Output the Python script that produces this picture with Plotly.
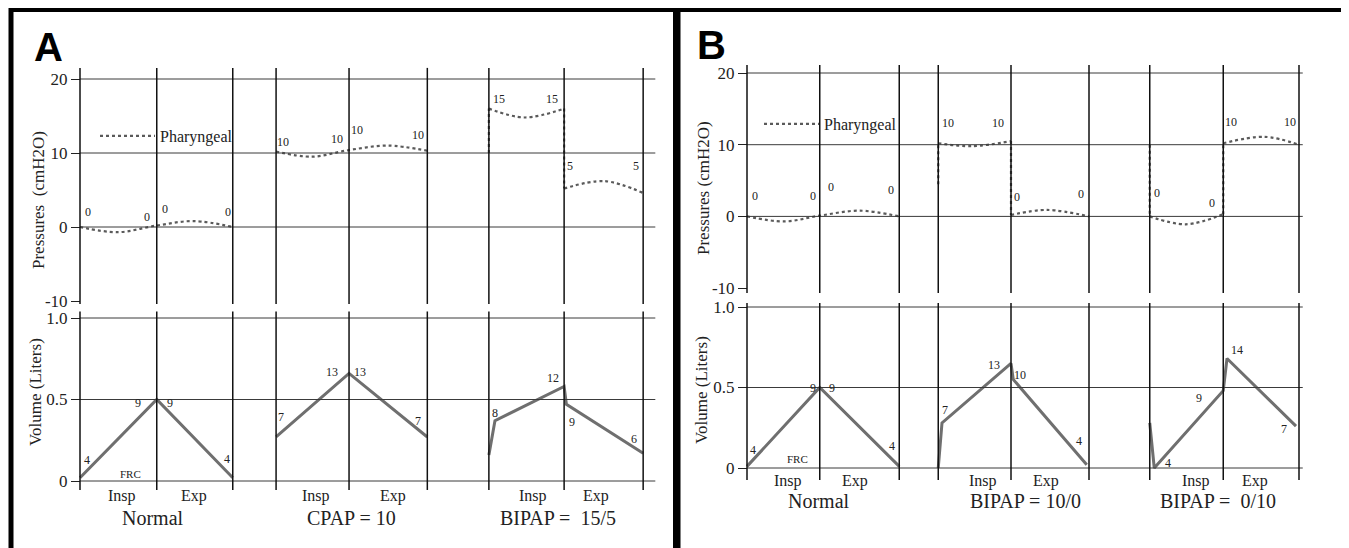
import plotly.graph_objects as go

W, H = 1349, 548
OFF = 8  # page body margin in the browser
FW, FH = W - OFF, H - OFF

# ---------------- DATA (time in phase units, pressure cmH2O, volume L) ----------------
# breath boundaries: start, end of inspiration, end of expiration
a_bounds = [[0, 1.01, 2.01], [2.58, 3.54, 4.57], [5.38, 6.37, 7.41]]
b_bounds = [[0, 0.97, 2.03], [2.55, 3.52, 4.56], [5.37, 6.35, 7.36]]

# Panel A – pharyngeal pressure
a_p_norm_t = [0, 0.5, 1.01, 1.5, 2.01]
a_p_norm = [0, -0.7, 0.2, 0.8, 0]
a_p_cpap_t = [2.58, 3.05, 3.54, 4.05, 4.57]
a_p_cpap = [10.2, 9.5, 10.4, 11.0, 10.3]
a_p_bip_in_t = [5.38, 5.85, 6.37]
a_p_bip_in = [16.0, 14.8, 16.0]
a_p_bip_ex_t = [6.37, 6.9, 7.41]
a_p_bip_ex = [5.2, 6.2, 4.6]
a_p_step_t = [5.38, 6.37]
a_p_step_from = [10.0, 16.0]
a_p_step_to = [16.0, 5.2]

# Panel A – volume
a_v_norm_t = [0, 1.01, 2.01]
a_v_norm = [0.02, 0.5, 0.02]
a_v_cpap_t = [2.58, 3.54, 4.57]
a_v_cpap = [0.27, 0.66, 0.27]
a_v_bip_t = [5.38, 5.46, 6.37, 6.40, 7.41]
a_v_bip = [0.16, 0.37, 0.58, 0.47, 0.17]

# Panel B – pharyngeal pressure
b_p_norm_t = [0, 0.5, 0.97, 1.5, 2.03]
b_p_norm = [0.0, -0.7, 0.1, 0.8, 0.0]
b_p_b1_in_t = [2.55, 3.0, 3.52]
b_p_b1_in = [10.2, 9.8, 10.5]
b_p_b1_ex_t = [3.52, 4.0, 4.56]
b_p_b1_ex = [0.2, 0.9, 0.0]
b_p_b2_in_t = [5.37, 5.85, 6.35]
b_p_b2_in = [0.0, -1.1, 0.3]
b_p_b2_ex_t = [6.35, 6.9, 7.36]
b_p_b2_ex = [10.2, 11.1, 10.0]
b_p_step_t = [2.55, 3.52, 5.37, 6.35]
b_p_step_from = [4.5, 10.5, 10.0, 0.3]
b_p_step_to = [10.2, 0.2, 0.0, 10.2]

# Panel B – volume
b_v_norm_t = [0, 0.97, 2.03]
b_v_norm = [0.01, 0.5, 0.01]
b_v_b1_t = [2.55, 2.60, 3.52, 3.55, 4.53]
b_v_b1 = [0.0, 0.28, 0.65, 0.55, 0.02]
b_v_b2_t = [5.37, 5.43, 6.35, 6.40, 7.32]
b_v_b2 = [0.28, 0.0, 0.48, 0.68, 0.26]

# point labels (t, value, text)
a_p_labels = [(0.1, 2.0, "0"), (0.88, 1.4, "0"), (1.12, 2.4, "0"), (1.95, 2.0, "0"),
              (2.67, 11.5, "10"), (3.38, 11.9, "10"), (3.64, 13.1, "10"), (4.45, 12.4, "10"),
              (5.51, 17.3, "15"), (6.21, 17.3, "15"), (6.45, 8.2, "5"), (7.32, 8.2, "5")]
a_v_labels = [(0.09, 0.13, "4"), (0.76, 0.48, "9"), (1.18, 0.48, "9"), (1.93, 0.135, "4"),
              (2.64, 0.39, "7"), (3.32, 0.67, "13"), (3.68, 0.67, "13"), (4.45, 0.37, "7"),
              (5.46, 0.42, "8"), (6.22, 0.63, "12"), (6.47, 0.36, "9"), (7.29, 0.26, "6")]
b_p_labels = [(0.11, 2.9, "0"), (0.88, 2.9, "0"), (1.12, 4.1, "0"), (1.92, 3.7, "0"),
              (2.68, 13.0, "10"), (3.35, 13.0, "10"), (3.60, 2.7, "0"), (4.45, 3.1, "0"),
              (5.47, 3.3, "0"), (6.20, 1.9, "0"), (6.45, 13.2, "10"), (7.24, 13.2, "10")]
b_v_labels = [(0.08, 0.11, "4"), (0.88, 0.5, "9"), (1.13, 0.5, "9"), (1.93, 0.137, "4"),
              (2.64, 0.36, "7"), (3.29, 0.64, "13"), (3.64, 0.58, "10"), (4.43, 0.17, "4"),
              (5.61, 0.03, "4"), (6.03, 0.435, "9"), (6.53, 0.73, "14"), (7.16, 0.24, "7")]
a_frc = (0.66, 0.043, "FRC")
b_frc = (0.67, 0.056, "FRC")

phase_names = ["Insp", "Exp", "Insp", "Exp", "Insp", "Exp"]
a_phase_t = [0.55, 1.50, 3.10, 4.12, 5.96, 6.79]
b_phase_t = [0.55, 1.44, 3.15, 3.99, 5.99, 6.77]
a_cond_t = [0.96, 3.57, 6.29]
a_cond = ["Normal", "CPAP = 10", "BIPAP =\u00a0 15/5"]
b_cond_t = [0.96, 3.71, 6.28]
b_cond = ["Normal", "BIPAP = 10/0", "BIPAP =\u00a0 0/10"]

p_ticks = [20, 10, 0, -10]
p_grid = [20, 10, 0]
v_ticks = [0, 0.5, 1.0]
v_ticktext = ["0", "0.5", "1.0"]

# ---------------- helpers ----------------
def fx(px):
    return (px - OFF) / FW

def fy(py):
    return 1 - (py - OFF) / FH

SERIF = "Liberation Serif"
TXT = "#222222"
PCOL = "#5a5a5a"
VCOL = "#6f6f6f"

fig = go.Figure()

def ptrace(t, p, xa, ya, shape="spline", legend=None):
    fig.add_trace(go.Scatter(
        x=t, y=p, xaxis=xa, yaxis=ya, mode="lines",
        line=dict(color=PCOL, width=2.2, dash="dot", shape=shape, smoothing=1.0),
        name="Pharyngeal", showlegend=legend is not None,
        legend=legend if legend else "legend", hoverinfo="skip"))

def vtrace(t, v, xa, ya):
    fig.add_trace(go.Scatter(
        x=t, y=v, xaxis=xa, yaxis=ya, mode="lines",
        line=dict(color=VCOL, width=3), showlegend=False, hoverinfo="skip"))

# Panel A
ptrace(a_p_norm_t, a_p_norm, "x", "y", legend="legend")
ptrace(a_p_cpap_t, a_p_cpap, "x", "y")
ptrace(a_p_bip_in_t, a_p_bip_in, "x", "y")
ptrace(a_p_bip_ex_t, a_p_bip_ex, "x", "y")
for t, p0, p1 in zip(a_p_step_t, a_p_step_from, a_p_step_to):
    ptrace([t, t], [p0, p1], "x", "y", shape="linear")
vtrace(a_v_norm_t, a_v_norm, "x", "y2")
vtrace(a_v_cpap_t, a_v_cpap, "x", "y2")
vtrace(a_v_bip_t, a_v_bip, "x", "y2")

# Panel B
ptrace(b_p_norm_t, b_p_norm, "x2", "y3", legend="legend2")
ptrace(b_p_b1_in_t, b_p_b1_in, "x2", "y3")
ptrace(b_p_b1_ex_t, b_p_b1_ex, "x2", "y3")
ptrace(b_p_b2_in_t, b_p_b2_in, "x2", "y3")
ptrace(b_p_b2_ex_t, b_p_b2_ex, "x2", "y3")
for t, p0, p1 in zip(b_p_step_t, b_p_step_from, b_p_step_to):
    ptrace([t, t], [p0, p1], "x2", "y3", shape="linear")
vtrace(b_v_norm_t, b_v_norm, "x2", "y4")
vtrace(b_v_b1_t, b_v_b1, "x2", "y4")
vtrace(b_v_b2_t, b_v_b2, "x2", "y4")

# ---------------- geometry (window pixels) ----------------
A_X0, A_SC = 80, 76.0
A_DOM = (20, 668)
B_X0, B_SC = 747, 75.0
B_DOM = (690, 1335)

def xrange_(dom, x0, sc):
    return [(dom[0] - x0) / sc, (dom[1] - x0) / sc]

def yrange_(dom, ref_px, ref_val, sc):
    return [ref_val - (dom[1] - ref_px) / sc, ref_val + (ref_px - dom[0]) / sc]

AP_DOM, AP_REF, AP_SC = (55, 312), 79, 7.4
AV_DOM, AV_REF, AV_SC = (306, 512), 481, 163.0
BP_DOM, BP_REF, BP_SC = (55, 300), 73, 7.17
BV_DOM, BV_REF, BV_SC = (296, 497), 468, 161.0

tickfont = dict(family=SERIF, size=17, color=TXT)

def yax(dom, rng, pos, vals, text):
    return dict(domain=[fy(dom[1]), fy(dom[0])], range=rng, anchor="free", position=pos,
                tickvals=vals, ticktext=text, ticks="outside", ticklen=9, tickwidth=1,
                tickcolor="#222", showgrid=False, zeroline=False, showline=False,
                tickfont=tickfont, fixedrange=True)

legfont = dict(family=SERIF, size=16, color=TXT)
fig.update_layout(
    width=FW, height=FH, margin=dict(l=0, r=0, t=0, b=0),
    paper_bgcolor="white", plot_bgcolor="rgba(0,0,0,0)",
    xaxis=dict(domain=[fx(A_DOM[0]), fx(A_DOM[1])], range=xrange_(A_DOM, A_X0, A_SC),
               visible=False, anchor="y"),
    xaxis2=dict(domain=[fx(B_DOM[0]), fx(B_DOM[1])], range=xrange_(B_DOM, B_X0, B_SC),
                visible=False, anchor="y3"),
    yaxis=yax(AP_DOM, yrange_(AP_DOM, AP_REF, 20, AP_SC), fx(A_X0), p_ticks, [str(v) for v in p_ticks]),
    yaxis2=yax(AV_DOM, yrange_(AV_DOM, AV_REF, 0, AV_SC), fx(A_X0), v_ticks, v_ticktext),
    yaxis3=yax(BP_DOM, yrange_(BP_DOM, BP_REF, 20, BP_SC), fx(B_X0), p_ticks, [str(v) for v in p_ticks]),
    yaxis4=yax(BV_DOM, yrange_(BV_DOM, BV_REF, 0, BV_SC), fx(B_X0), v_ticks, v_ticktext),
    legend=dict(x=fx(95), y=fy(119), xanchor="left", yanchor="top", bgcolor="rgba(0,0,0,0)",
                font=legfont, itemwidth=55),
    legend2=dict(x=fx(759), y=fy(107), xanchor="left", yanchor="top", bgcolor="rgba(0,0,0,0)",
                 font=legfont, itemwidth=55),
)

shapes = []

def hlines(xa, ya, vals, t_end):
    for v in vals:
        shapes.append(dict(type="line", xref=xa, yref=ya, x0=0, x1=t_end, y0=v, y1=v,
                           line=dict(color="#3a3a3a", width=1)))

def vlines(xa, ya, bounds, lo, hi):
    for b in bounds:
        for t in b:
            shapes.append(dict(type="line", xref=xa, yref=ya, x0=t, x1=t, y0=lo, y1=hi,
                               line=dict(color="#111111", width=1.5)))

hlines("x", "y", p_grid, 7.57)
hlines("x", "y2", v_ticks, 7.57)
hlines("x2", "y3", p_grid, 7.41)
hlines("x2", "y4", v_ticks, 7.41)
vlines("x", "y", a_bounds, -10.4, 21.5)
vlines("x", "y2", a_bounds, -0.055, 1.04)
vlines("x2", "y3", b_bounds, -10.7, 21.1)
vlines("x2", "y4", b_bounds, -0.075, 1.025)

# panel borders
shapes.append(dict(type="rect", xref="paper", yref="paper", x0=fx(11), x1=fx(675.5),
                   y0=fy(620), y1=fy(9.5), line=dict(color="black", width=5)))
shapes.append(dict(type="rect", xref="paper", yref="paper", x0=fx(678), x1=fx(1345),
                   y0=fy(620), y1=fy(9.5), line=dict(color="black", width=5)))
fig.update_layout(shapes=shapes)

ann = []

def labels(lst, xa, ya, size=12):
    for t, v, s in lst:
        ann.append(dict(x=t, y=v, xref=xa, yref=ya, text=s, showarrow=False,
                        xanchor="center", yanchor="middle",
                        font=dict(family=SERIF, size=size, color=TXT)))

labels(a_p_labels, "x", "y")
labels(a_v_labels, "x", "y2")
labels(b_p_labels, "x2", "y3")
labels(b_v_labels, "x2", "y4")
labels([a_frc], "x", "y2", size=11)
labels([b_frc], "x2", "y4", size=11)

def bottom(ts, texts, xa, ypx, size):
    for t, s in zip(ts, texts):
        ann.append(dict(x=t, y=fy(ypx), xref=xa, yref="paper", text=s, showarrow=False,
                        xanchor="center", yanchor="middle",
                        font=dict(family=SERIF, size=size, color=TXT)))

bottom(a_phase_t, phase_names, "x", 496, 16)
bottom(b_phase_t, phase_names, "x2", 481, 16)
bottom(a_cond_t, a_cond, "x", 518, 20)
bottom(b_cond_t, b_cond, "x2", 501, 20)

def ytitle(text, xpx, ypx):
    ann.append(dict(x=fx(xpx), y=fy(ypx), xref="paper", yref="paper", text=text,
                    textangle=-90, showarrow=False, xanchor="center", yanchor="middle",
                    font=dict(family=SERIF, size=17, color=TXT)))

ytitle("Pressures\u00a0 (cmH2O)", 38, 200)
ytitle("Volume (Liters)", 35, 392)
ytitle("Pressures (cmH2O)", 704, 188)
ytitle("Volume (Liters)", 701, 390)

for letter, xpx, ypx in (("A", 48, 47), ("B", 711, 45)):
    ann.append(dict(x=fx(xpx), y=fy(ypx), xref="paper", yref="paper", text="<b>%s</b>" % letter,
                    showarrow=False, xanchor="center", yanchor="middle",
                    font=dict(family="Liberation Sans", size=40, color="black")))

fig.update_layout(annotations=ann)
fig.write_html("out.html")
